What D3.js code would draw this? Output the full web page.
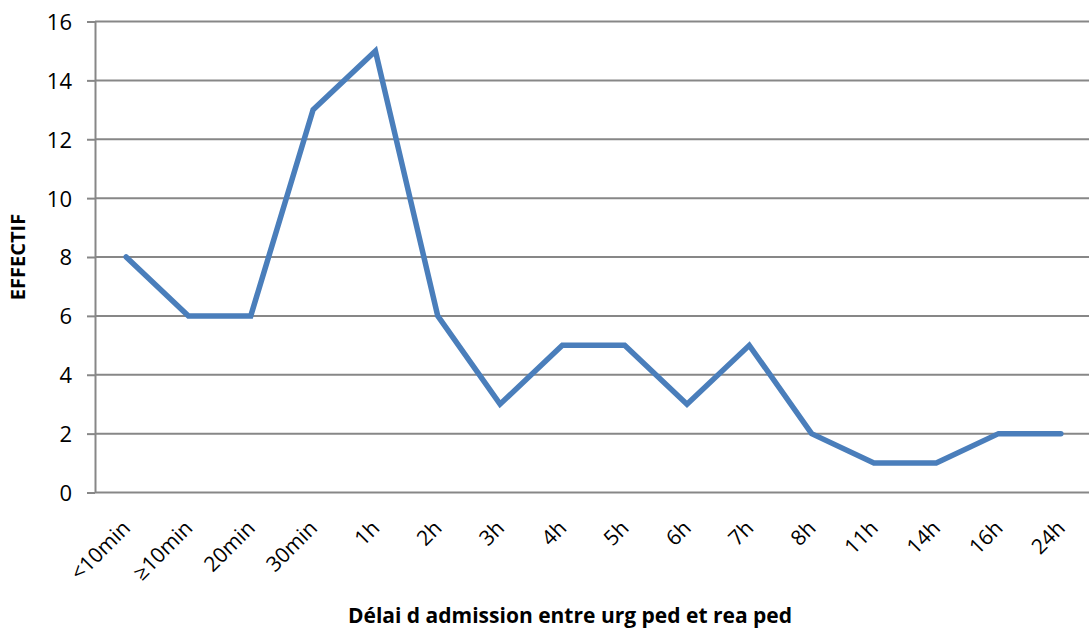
<!DOCTYPE html>
<html>
<head>
<meta charset="utf-8">
<script src="https://cdn.jsdelivr.net/npm/d3@7"></script>
<style>
  html, body { margin: 0; padding: 0; background: #fff; }
  svg { display: block; }
  text { font-family: "Open Sans", "Noto Sans", sans-serif; fill: #000; }
</style>
</head>
<body>
<svg id="chart" width="1089" height="630"></svg>
<script>
// Délai d'admission (catégories) et effectifs correspondants
const categories = ["<10min", "≥10min", "20min", "30min", "1h", "2h", "3h", "4h",
                    "5h", "6h", "7h", "8h", "11h", "14h", "16h", "24h"];
const effectifs = [8, 6, 6, 13, 15, 6, 3, 5, 5, 3, 5, 2, 1, 1, 2, 2];
const yTicks = [0, 2, 4, 6, 8, 10, 12, 14, 16];
const yLabel = "EFFECTIF";
const xLabel = "Délai d admission entre urg ped et rea ped";

const svg = d3.select("#chart");
const plotLeft = 95, plotRight = 1092, plotTop = 21.5, plotBottom = 492.5;
const gridColor = "#878787";

const x = d3.scalePoint().domain(categories).range([plotLeft, plotRight]).padding(0.5);
const y = d3.scaleLinear().domain([0, 16]).range([plotBottom, plotTop]);

// horizontal grid lines
svg.append("g")
  .selectAll("line")
  .data(yTicks)
  .join("line")
  .attr("x1", plotLeft).attr("x2", plotRight)
  .attr("y1", d => y(d)).attr("y2", d => y(d))
  .attr("stroke", gridColor).attr("stroke-width", 2);

// vertical axis with outward ticks
const yAxis = svg.append("g")
  .attr("transform", `translate(${plotLeft},0)`)
  .call(d3.axisLeft(y).tickValues(yTicks).tickSize(8).tickSizeOuter(0).tickPadding(15));
yAxis.select(".domain").attr("stroke", gridColor).attr("stroke-width", 2);
yAxis.selectAll(".tick line").attr("stroke", gridColor).attr("stroke-width", 2);
yAxis.selectAll(".tick text")
  .attr("font-size", 22).attr("font-family", "'Open Sans', sans-serif")
  .attr("fill", "#000").attr("dy", "0.36em");

// category axis, labels rotated
const xAxis = svg.append("g")
  .attr("transform", `translate(0,${plotBottom})`)
  .call(d3.axisBottom(x).tickSize(0));
xAxis.select(".domain").remove();
xAxis.selectAll(".tick text")
  .attr("font-size", 21).attr("font-family", "'Open Sans', sans-serif")
  .attr("fill", "#000")
  .attr("text-anchor", "end")
  .attr("x", 0).attr("y", 0).attr("dy", 0)
  .attr("transform", "translate(5,37) rotate(-45)");

// series line
const line = d3.line()
  .x((d, i) => x(categories[i]))
  .y(d => y(d));

svg.append("path")
  .datum(effectifs)
  .attr("d", line)
  .attr("fill", "none")
  .attr("stroke", "#4a7ebb")
  .attr("stroke-width", 5.5)
  .attr("stroke-linejoin", "miter")
  .attr("stroke-linecap", "round");

// axis titles
svg.append("text")
  .attr("transform", `translate(25,${(plotTop + plotBottom) / 2}) rotate(-90)`)
  .attr("text-anchor", "middle")
  .attr("font-size", 20).attr("font-weight", "bold")
  .text(yLabel);

svg.append("text")
  .attr("x", 570).attr("y", 623)
  .attr("text-anchor", "middle")
  .attr("font-size", 21).attr("font-weight", "bold")
  .text(xLabel);
</script>
</body>
</html>
